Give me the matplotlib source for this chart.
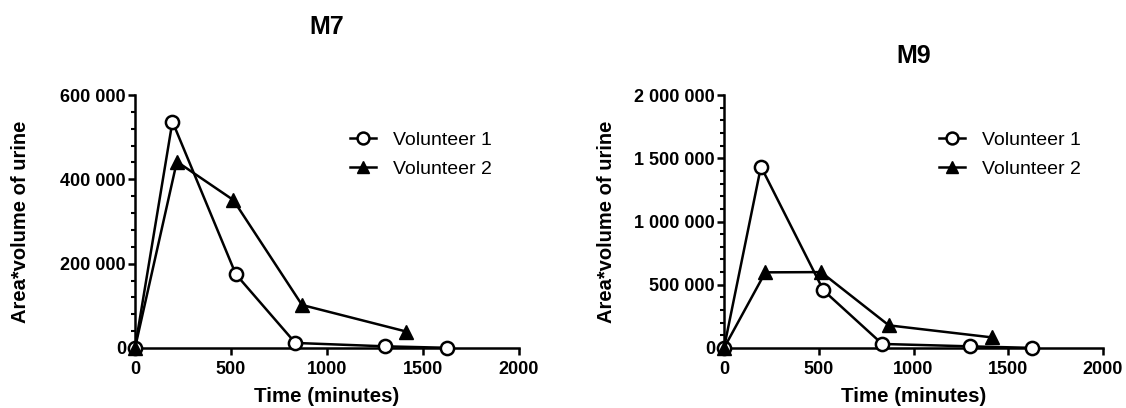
import matplotlib
matplotlib.use("Agg")
import matplotlib.pyplot as plt
from matplotlib.ticker import FuncFormatter, MultipleLocator

plt.rcParams['font.family'] = ['Liberation Sans', 'DejaVu Sans']

# ---- data ----
time_v1 = [0, 195, 525, 835, 1300, 1625]
time_v2 = [0, 218, 512, 870, 1413]

m7_v1 = [0, 537000, 175000, 12000, 4000, 500]
m7_v2 = [0, 442000, 351000, 102000, 39000]

m9_v1 = [0, 1434000, 455000, 32000, 13000, 1000]
m9_v2 = [0, 598000, 600000, 179000, 84000]

titles = ["M7", "M9"]
series_labels = ["Volunteer 1", "Volunteer 2"]
x_ticks = [0, 500, 1000, 1500, 2000]
y_ticks_m7 = [0, 200000, 400000, 600000]
y_ticks_m9 = [0, 500000, 1000000, 1500000, 2000000]

W, H = 1126, 408
fig = plt.figure(figsize=(W / 100, H / 100), dpi=100)


def fx(px):
    return px / W


def fy(py):
    return 1 - py / H


def fmt(v, pos):
    return "{:,}".format(int(round(v))).replace(",", " ")


panels = [
    dict(left=135, right=519, top=95, bottom=348, v1=m7_v1, v2=m7_v2,
         yticks=y_ticks_m7, minor=40000, title=titles[0], title_y=27,
         ylabel_x=21, legend_x=350),
    dict(left=724, right=1103, top=95, bottom=348, v1=m9_v1, v2=m9_v2,
         yticks=y_ticks_m9, minor=100000, title=titles[1], title_y=56,
         ylabel_x=606, legend_x=939),
]

for p in panels:
    ax = fig.add_axes([fx(p['left']), fy(p['bottom']),
                       fx(p['right'] - p['left']),
                       (p['bottom'] - p['top']) / H])
    ax.plot(time_v1, p['v1'], color='black', lw=1.8, marker='o', ms=9.5,
            mfc='white', mec='black', mew=1.8, clip_on=False, zorder=3,
            label=series_labels[0])
    ax.plot(time_v2, p['v2'], color='black', lw=1.8, marker='^', ms=9.5,
            mfc='black', mec='black', mew=1.0, clip_on=False, zorder=3,
            label=series_labels[1])
    ax.set_xlim(0, 2000)
    ax.set_ylim(0, p['yticks'][-1])
    ax.set_xticks(x_ticks)
    ax.set_yticks(p['yticks'])
    ax.yaxis.set_minor_locator(MultipleLocator(p['minor']))
    ax.yaxis.set_major_formatter(FuncFormatter(fmt))
    for s in ['top', 'right']:
        ax.spines[s].set_visible(False)
    for s in ['left', 'bottom']:
        ax.spines[s].set_linewidth(1.8)
    ax.tick_params(axis='both', which='major', length=5, width=1.8,
                   labelsize=13, direction='out')
    ax.tick_params(axis='y', which='minor', length=3, width=1.5,
                   direction='out')
    ax.tick_params(axis='y', which='major', pad=1.5)
    ax.tick_params(axis='x', which='major', pad=4)
    for lab in ax.get_xticklabels() + ax.get_yticklabels():
        lab.set_fontweight('bold')
    cx = (p['left'] + p['right']) / 2
    fig.text(fx(cx), fy(p['title_y']), p['title'], ha='center', va='center',
             fontsize=18, fontweight='bold')
    fig.text(fx(cx), fy(396), "Time (minutes)", ha='center', va='center',
             fontsize=14.8, fontweight='bold')
    fig.text(fx(p['ylabel_x']), fy((p['top'] + p['bottom']) / 2),
             "Area*volume of urine", ha='center', va='center',
             rotation=90, fontsize=14.5, fontweight='bold')
    ax.legend(loc='upper left', bbox_to_anchor=(fx(p['legend_x']), fy(131)),
              bbox_transform=fig.transFigure, frameon=False, fontsize=14,
              handlelength=1.35, handletextpad=0.85, borderpad=0,
              borderaxespad=0, labelspacing=0.6, markerscale=0.9)

fig.savefig("out.png", dpi=100)
